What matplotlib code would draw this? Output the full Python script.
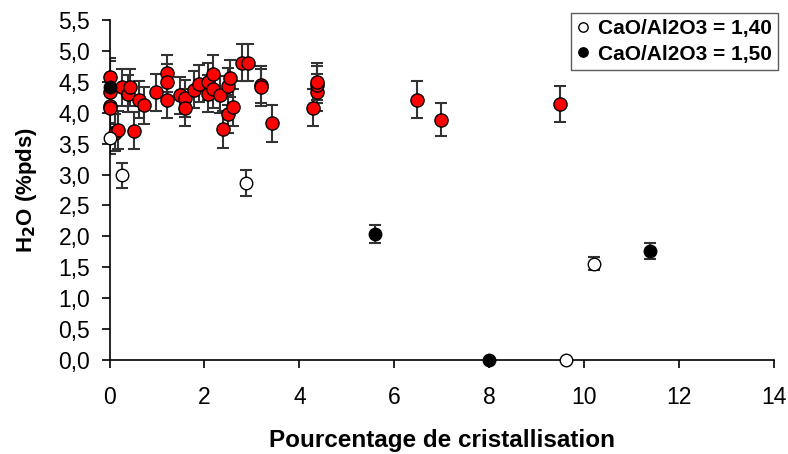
import matplotlib
matplotlib.use("Agg")
import matplotlib.pyplot as plt
from matplotlib.ticker import FuncFormatter

plt.rcParams['font.family'] = ['Liberation Sans', 'DejaVu Sans']

# Red series (no legend entry)
red_x = [0, 0, 0, 0, 0.12, 0.18, 0.27, 0.38, 0.43, 0.52, 0.63, 0.73, 0.98,
         1.21, 1.21, 1.21, 1.49, 1.58, 1.58, 1.78, 1.89, 2.07, 2.08, 2.19,
         2.19, 2.33, 2.39, 2.49, 2.49, 2.54, 2.60, 2.79, 2.91, 3.19, 3.19,
         3.43, 4.29, 4.37, 4.38, 4.38, 6.48, 6.99, 9.50]
red_y = [4.58, 4.34, 4.11, 4.07, 3.68, 3.72, 4.41, 4.31, 4.41, 3.71, 4.21,
         4.12, 4.33, 4.64, 4.49, 4.21, 4.28, 4.23, 4.08, 4.37, 4.47, 4.31,
         4.50, 4.63, 4.38, 4.29, 3.73, 3.98, 4.43, 4.56, 4.09, 4.81, 4.81,
         4.45, 4.41, 3.83, 4.08, 4.33, 4.45, 4.50, 4.21, 3.89, 4.14]
red_err = [0.30] * 40 + [0.30, 0.27, 0.29]

# CaO/Al2O3 = 1,40 (open circles)
w_x = [0, 0.26, 2.88, 9.63, 10.21]
w_y = [3.59, 2.99, 2.86, 0.0, 1.56]
w_err = [0.25, 0.20, 0.21, 0.0, 0.10]

# CaO/Al2O3 = 1,50 (filled black)
b_x = [0, 5.6, 8.0, 11.4]
b_y = [4.42, 2.04, 0.0, 1.76]
b_err = [0.42, 0.14, 0.0, 0.13]

labels = ['CaO/Al2O3 = 1,40', 'CaO/Al2O3 = 1,50']
xticks = [0, 2, 4, 6, 8, 10, 12, 14]
yticks = [0.0, 0.5, 1.0, 1.5, 2.0, 2.5, 3.0, 3.5, 4.0, 4.5, 5.0, 5.5]

fig = plt.figure(figsize=(7.88, 4.54), dpi=100)
ax = fig.add_axes([0.139, 0.207, 0.843, 0.749])

ekw = dict(fmt='none', ecolor='#333333', elinewidth=1.5, capsize=4.5, capthick=1.5, zorder=2)
ax.errorbar(red_x, red_y, yerr=red_err, **ekw)
ax.errorbar(w_x, w_y, yerr=w_err, **ekw)
ax.errorbar(b_x, b_y, yerr=b_err, **ekw)

ax.plot(red_x, red_y, 'o', ms=9.5, mfc='#ff0000', mec='black', mew=1.0, zorder=3, clip_on=False)
h1, = ax.plot(w_x, w_y, 'o', ms=9, mfc='white', mec='black', mew=1.0, zorder=4, clip_on=False, label=labels[0])
h2, = ax.plot(b_x, b_y, 'o', ms=9, mfc='black', mec='black', mew=1.0, zorder=4, clip_on=False, label=labels[1])

ax.set_xlim(0, 14)
ax.set_ylim(0, 5.5)
ax.set_xticks(xticks)
ax.set_yticks(yticks)
ax.yaxis.set_major_formatter(FuncFormatter(lambda v, p: f"{v:.1f}".replace('.', ',')))
ax.spines['top'].set_visible(False)
ax.spines['right'].set_visible(False)
for s in ['left', 'bottom']:
    ax.spines[s].set_linewidth(1.2)
ax.tick_params(axis='both', direction='out', length=6, width=1.2, labelsize=16.5)
ax.tick_params(axis='y', pad=8)
ax.tick_params(axis='x', pad=13)

ax.set_xlabel('Pourcentage de cristallisation', fontsize=17.5, fontweight='bold', labelpad=14)
ax.set_ylabel('H$_\\mathbf{2}$O (%pds)', fontsize=16, fontweight='bold', labelpad=14)

leg = fig.legend(handles=[h1, h2], loc='upper right', bbox_to_anchor=(0.987, 0.971),
                 prop={'weight': 'bold', 'size': 15}, frameon=True, fancybox=False,
                 edgecolor='#333333', handlelength=0.6, handletextpad=0.4,
                 borderpad=0.3, labelspacing=0.3, markerscale=0.75, borderaxespad=0)
leg.get_frame().set_linewidth(1.0)

fig.savefig('out.png', dpi=100)
